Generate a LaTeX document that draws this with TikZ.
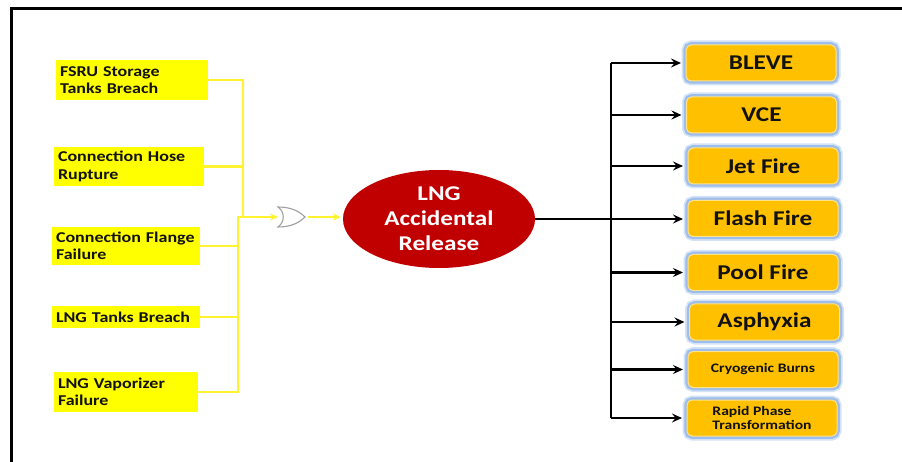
\documentclass[tikz,border=0pt]{standalone}
\usepackage{fontspec}
\setmainfont{Carlito}[FakeStretch=1.2]
\usetikzlibrary{shapes.geometric,arrows.meta,calc}
\definecolor{ylw}{HTML}{FFFF00}
\definecolor{ylwline}{HTML}{FFF22E}
\definecolor{orng}{HTML}{FFC000}
\definecolor{orngedge}{HTML}{FFE38A}
\definecolor{glowA}{HTML}{D3E2F6}
\definecolor{glowB}{HTML}{9DBDEB}
\definecolor{redell}{HTML}{C00000}
\definecolor{txt}{HTML}{111111}
\begin{document}
\begin{tikzpicture}[x=1pt,y=-1pt,
  cause/.style={fill=ylw, inner xsep=4pt, inner ysep=0pt, align=left, text=txt,
    font=\fontsize{15}{17.5}\selectfont\bfseries},
  effect/.style={rounded corners=5pt, fill=orng, draw=orngedge, line width=1pt,
    preaction={draw=glowA, line width=9pt},
    preaction={draw=glowB, line width=5.5pt},
    minimum width=150pt, minimum height=36pt, inner sep=0pt, align=center, text=txt,
    font=\fontsize{21}{24}\selectfont\bfseries},
  small/.style={font=\fontsize{13}{14.5}\selectfont\bfseries},
  yline/.style={draw=ylwline, line width=2.6pt},
  yarrow/.style={yline, -{Stealth[length=8pt,width=7pt]}},
  barrow/.style={draw=black, line width=2.2pt, -{Stealth[length=10pt,width=9pt,inset=3.5pt]}},
  bline/.style={draw=black, line width=2.2pt}
]
\useasboundingbox (0,0) rectangle (902,462);
% frame
\draw[line width=3pt, black] (902,8.5) -- (11,8.5) -- (11,462);

% causes
\node[cause, text width=144pt, minimum height=40pt] (c1) at (132,80) {FSRU Storage\\Tanks Breach};
\node[cause, text width=142pt, minimum height=39pt] (c2) at (129,166.5) {Connection Hose\\Rupture};
\node[cause, text width=140pt, minimum height=38pt] (c3) at (126,246) {Connection Flange\\Failure};
\node[cause, text width=140pt, minimum height=22pt] (c4) at (126,317) {LNG Tanks Breach};
\node[cause, text width=136pt, minimum height=40pt] (c5) at (126,392) {LNG Vaporizer\\Failure};

% yellow bus
\coordinate (ybA) at (243,217);
\coordinate (ybB) at (238,217);
\draw[yline] (c1.east) -- (c1.east -| ybA) -- (ybA);
\draw[yline] (c2.east) -- (c2.east -| ybA);
\draw[yline] (ybA) -- (ybB) -- (ybB |- c5.east) -- (c5.east);
\draw[yline] (c3.east) -- (c3.east -| ybB);
\draw[yline] (c4.east) -- (c4.east -| ybB);

% OR gate
\coordinate (gin) at (281,217);
\coordinate (gout) at (305,217);
\draw[draw=gray!75, line width=1.1pt, fill=white]
  (278,207) .. controls (285,212) and (285,222) .. (278,227)
  .. controls (292,227) and (300,222) .. (305,217)
  .. controls (300,212) and (292,207) .. (278,207) -- cycle;
\draw[yarrow, shorten >=3pt] (ybA) -- (gin);

% central event
\node[ellipse, fill=redell, minimum width=192pt, minimum height=98pt, inner sep=0pt,
  text=white, align=center, font=\fontsize{21}{25}\selectfont\bfseries] (ell) at (439,219)
  {LNG\\Accidental\\Release};
\draw[yarrow, shorten <=3pt, shorten >=2pt] (gout) -- (gout -| ell.west);

% effects
\node[effect] (e1) at (761,63) {BLEVE};
\node[effect] (e2) at (761.5,115) {VCE};
\node[effect] (e3) at (763,166) {Jet Fire};
\node[effect] (e4) at (763,218.5) {Flash Fire};
\node[effect] (e5) at (763,272.5) {Pool Fire};
\node[effect] (e6) at (764.5,322) {Asphyxia};
\node[effect, small] (e7) at (763,369.5) {Cryogenic Burns};
\node[effect, small, align=left] (e8) at (762,418) {Rapid Phase\\Transformation};

% black bus
\coordinate (bb) at (611,219);
\draw[bline] (bb |- e1.west) -- (bb |- e8.west);
\draw[barrow, shorten >=4.5pt] (ell.east) -- (ell.east -| e4.west);
\foreach \e in {e1,e2,e3,e5,e6,e7,e8}
  \draw[barrow, shorten >=4.5pt] (bb |- \e.west) -- (\e.west);
\end{tikzpicture}
\end{document}
